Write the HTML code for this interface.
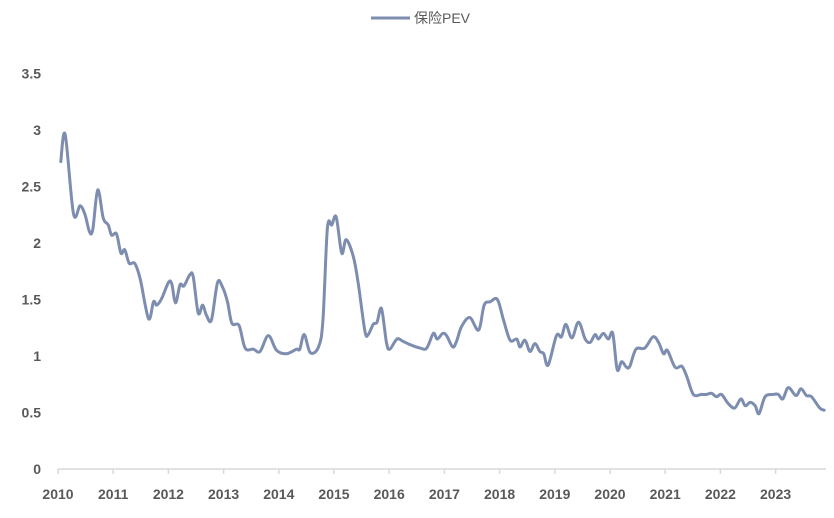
<!DOCTYPE html>
<html><head><meta charset="utf-8"><style>
body{margin:0;background:#fff;width:834px;height:513px;overflow:hidden;font-family:"Liberation Sans","Noto Sans CJK SC",sans-serif}
</style></head><body>
<svg id="chart" width="834" height="513" xmlns="http://www.w3.org/2000/svg"></svg>
<script>
const yearTicks=[2010,2011,2012,2013,2014,2015,2016,2017,2018,2019,2020,2021,2022,2023];
const yTicks=[0,0.5,1,1.5,2,2.5,3,3.5];
const yTickLabels=["0","0.5","1","1.5","2","2.5","3","3.5"];
const seriesName="保险PEV";
const dates=[.05,.13,.28,.40,.49,.57,.63,.72,.82,.91,.97,1.06,1.14,1.21,1.29,1.39,1.49,1.64,1.73,1.79,1.88,2.00,2.06,2.13,2.21,2.28,2.39,2.45,2.54,2.62,2.69,2.78,2.89,2.98,3.07,3.15,3.28,3.39,3.54,3.66,3.81,3.96,4.14,4.32,4.38,4.46,4.57,4.72,4.80,4.88,4.96,5.04,5.14,5.22,5.35,5.44,5.56,5.62,5.71,5.78,5.86,5.95,6.01,6.14,6.25,6.38,6.56,6.68,6.80,6.87,6.97,7.04,7.15,7.22,7.31,7.46,7.62,7.72,7.83,7.96,8.07,8.19,8.31,8.37,8.46,8.55,8.64,8.73,8.80,8.88,9.03,9.12,9.20,9.31,9.43,9.55,9.64,9.73,9.79,9.88,9.97,10.05,10.13,10.21,10.30,10.36,10.47,10.63,10.78,10.88,10.97,11.04,11.18,11.30,11.39,11.51,11.66,11.75,11.84,11.93,12.02,12.14,12.26,12.37,12.45,12.54,12.63,12.70,12.81,12.96,13.05,13.13,13.23,13.37,13.46,13.56,13.65,13.80,13.88];
const values=[2.72,2.96,2.26,2.33,2.25,2.10,2.12,2.47,2.22,2.16,2.07,2.08,1.91,1.94,1.82,1.82,1.68,1.33,1.48,1.45,1.51,1.65,1.64,1.47,1.63,1.62,1.72,1.70,1.38,1.45,1.36,1.32,1.65,1.61,1.48,1.29,1.27,1.07,1.06,1.04,1.18,1.05,1.02,1.06,1.06,1.19,1.03,1.08,1.32,2.13,2.16,2.23,1.91,2.03,1.88,1.64,1.22,1.19,1.28,1.30,1.42,1.12,1.06,1.15,1.13,1.10,1.07,1.07,1.20,1.15,1.20,1.18,1.08,1.13,1.26,1.34,1.23,1.45,1.48,1.50,1.32,1.14,1.15,1.08,1.14,1.04,1.11,1.04,1.02,0.92,1.18,1.17,1.28,1.16,1.30,1.15,1.12,1.19,1.15,1.20,1.15,1.20,0.88,0.95,0.90,0.91,1.06,1.07,1.17,1.12,1.02,1.05,0.90,0.91,0.82,0.66,0.66,0.66,0.67,0.64,0.66,0.58,0.54,0.62,0.56,0.59,0.56,0.49,0.64,0.66,0.66,0.62,0.72,0.65,0.71,0.65,0.64,0.54,0.52];

const svg=document.getElementById('chart');
const NS="http://www.w3.org/2000/svg";
const X0=58,PX_YEAR=55.2,Y0=469,PX_UNIT=113;
function xScale(t){return X0+t*PX_YEAR;}
function xYear(y){return X0+(y-2010)*PX_YEAR;}
function yScale(v){return Y0-v*PX_UNIT;}
function mk(tag,attrs){const e=document.createElementNS(NS,tag);for(const k in attrs)e.setAttribute(k,attrs[k]);svg.appendChild(e);return e;}

// axis line
let ax=mk('line',{x1:58,y1:Y0,x2:826,y2:Y0,stroke:'#d9d9d9','stroke-width':1.5});



yearTicks.forEach(y=>{
  const x=xYear(y);
  const t=mk('line',{x1:x,y1:Y0,x2:x,y2:Y0+5,stroke:'#d9d9d9','stroke-width':1.5});
  
  
  const l=mk('text',{x:x,y:Y0+30,'text-anchor':'middle','font-size':'14','font-weight':'bold',fill:'#595959'});
  l.textContent=y;
  
  
});
yTicks.forEach((v,i)=>{
  const l=mk('text',{x:41,y:yScale(v)+5,'text-anchor':'end','font-size':'14','font-weight':'bold',fill:'#595959'});
  l.textContent=yTickLabels[i];
  
  
});

// smooth path
const pts=dates.map((d,i)=>[xScale(d),yScale(values[i])]);
let d='M'+pts[0][0]+','+pts[0][1];
for(let i=0;i<pts.length-1;i++){
  const p0=pts[i-1]||pts[i],p1=pts[i],p2=pts[i+1],p3=pts[i+2]||p2;
  const c1=[p1[0]+(p2[0]-p0[0])/6,p1[1]+(p2[1]-p0[1])/6];
  const c2=[p2[0]-(p3[0]-p1[0])/6,p2[1]-(p3[1]-p1[1])/6];
  d+=` C${c1[0]},${c1[1]} ${c2[0]},${c2[1]} ${p2[0]},${p2[1]}`;
}
const line=mk('path',{d:d,fill:'none',stroke:'#7d8db0','stroke-width':3,'stroke-linejoin':'round','stroke-linecap':'round'});



// legend
const lg=mk('line',{x1:371,y1:18,x2:410,y2:18,stroke:'#7d8db0','stroke-width':3});


const lt=mk('text',{x:414,y:23,'font-size':'14',fill:'#595959'});
lt.textContent=seriesName;


</script>
</body></html>
